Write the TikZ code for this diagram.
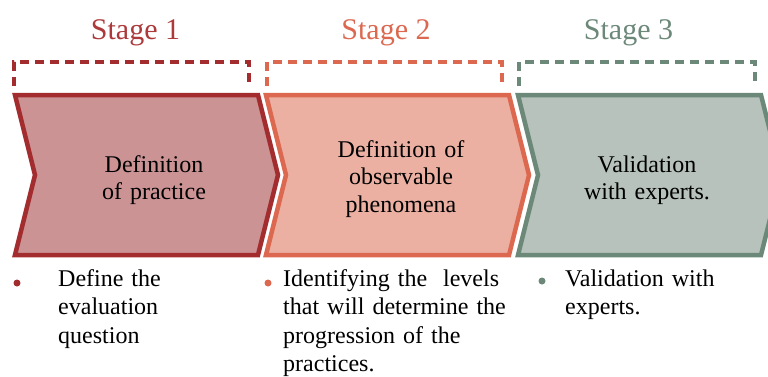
\documentclass[tikz,border=0pt]{standalone}
\usepackage{fontspec}
\setmainfont{Liberation Serif}
\definecolor{sA}{RGB}{163,44,46}
\definecolor{fA}{RGB}{204,147,149}
\definecolor{tA}{RGB}{172,58,60}
\definecolor{sB}{RGB}{220,104,80}
\definecolor{fB}{RGB}{235,176,162}
\definecolor{sC}{RGB}{108,136,121}
\definecolor{fC}{RGB}{182,194,187}
\begin{document}
\begin{tikzpicture}[x=1pt,y=-1pt,
  chev/.style={line width=4.5pt, line join=miter},
  bracket/.style={line width=4pt, dash pattern=on 9pt off 6pt},
  stagelbl/.style={anchor=base, inner sep=0pt, font=\fontsize{30}{34}\selectfont},
  chevtext/.style={anchor=base, inner sep=0pt, text width=200pt, align=center, font=\fontsize{24}{27.5}\selectfont},
  bultext/.style={anchor=base west, inner sep=0pt, text width=260pt, align=left, font=\fontsize{24}{28.5}\selectfont},
  dot/.style={circle, inner sep=0pt, minimum size=7pt}]
\useasboundingbox (0,0) rectangle (768,376);
\clip (0,0) rectangle (768,376);
% chevrons
\draw[chev, draw=sA, fill=fA] (15,95) -- (258,95) -- (278,175) -- (258,255) -- (15,255) -- (35,175) -- cycle;
\draw[chev, draw=sB, fill=fB] (266,95) -- (509,95) -- (529,175) -- (509,255) -- (266,255) -- (286,175) -- cycle;
\draw[chev, draw=sC, fill=fC] (518,95) -- (761,95) -- (781,175) -- (761,255) -- (518,255) -- (538,175) -- cycle;
% brackets
\draw[bracket, draw=sA] (14,86) -- (14,62) -- (249,62) -- (249,86);
\draw[bracket, draw=sB] (267,86) -- (267,62) -- (502,62) -- (502,86);
\draw[bracket, draw=sC] (519,86) -- (519,62) -- (755,62) -- (755,86);
% stage labels
\node[stagelbl, text=tA] (s1) at (135.5,39) {Stage 1};
\node[stagelbl, text=sB] (s2) at (386,39) {Stage 2};
\node[stagelbl, text=sC] (s3) at (628.5,39) {Stage 3};
% chevron texts
\node[chevtext] (c1) at (154,172) {Definition\\of practice};
\node[chevtext] (c2) at (401,157) {Definition of\\observable\\phenomena};
\node[chevtext] (c3) at (647,172) {Validation\\with experts.};
% bullets
\node[dot, fill=sA] (d1) at (17,283) {};
\node[dot, fill=sB] (d2) at (268,283) {};
\node[dot, fill=sC] (d3) at (542,281) {};
\node[bultext] (b1) at (58,286) {Define the\\evaluation\\question};
\node[bultext] (b2) at (283,286) {Identifying the\ \ levels\\that will determine the\\progression of the\\practices.};
\node[bultext] (b3) at (565,286) {Validation with\\experts.};
\end{tikzpicture}
\end{document}
